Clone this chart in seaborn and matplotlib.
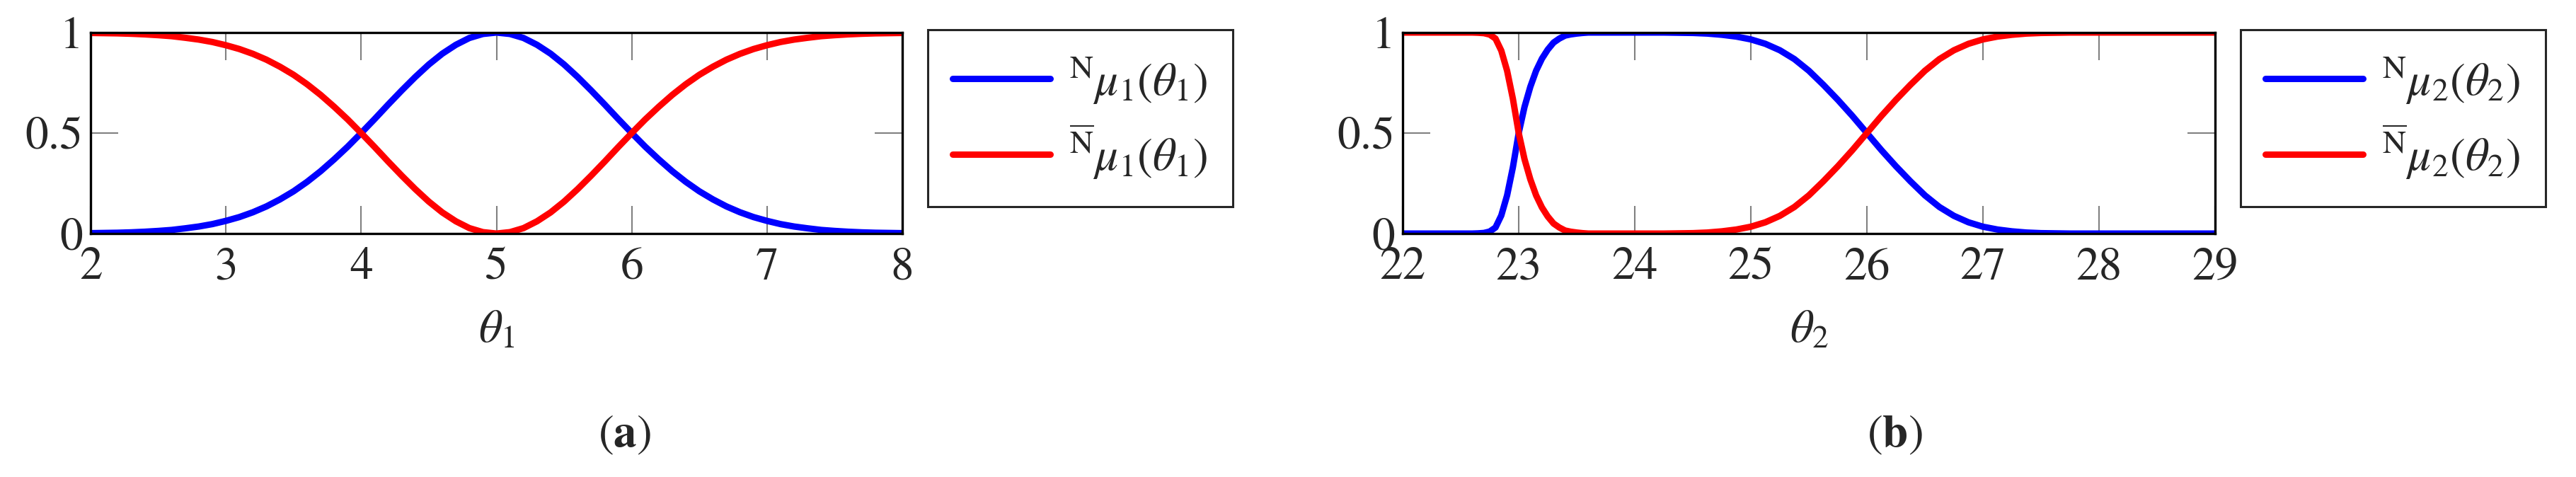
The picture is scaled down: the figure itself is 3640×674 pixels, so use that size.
import pandas as pd
import seaborn as sns
import matplotlib.pyplot as plt

# Panel (a): membership values (step 0.1)
theta1 = [round(2.0 + 0.1 * k, 1) for k in range(61)]
mu1_n = [0.002, 0.003, 0.004, 0.006, 0.009, 0.013, 0.018, 0.026, 0.035, 0.047,
         0.063, 0.082, 0.106, 0.135, 0.170, 0.210, 0.257, 0.310, 0.369, 0.432,
         0.500, 0.570, 0.642, 0.712, 0.779, 0.841, 0.895, 0.939, 0.973, 0.993,
         1.000,
         0.993, 0.973, 0.939, 0.895, 0.841, 0.779, 0.712, 0.642, 0.570, 0.500,
         0.432, 0.369, 0.310, 0.257, 0.210, 0.170, 0.135, 0.106, 0.082, 0.063,
         0.047, 0.035, 0.026, 0.018, 0.013, 0.009, 0.006, 0.004, 0.003, 0.002]
mu1_nbar = [0.998, 0.997, 0.996, 0.994, 0.991, 0.987, 0.982, 0.974, 0.965, 0.953,
            0.937, 0.918, 0.894, 0.865, 0.830, 0.790, 0.743, 0.690, 0.631, 0.568,
            0.500, 0.430, 0.358, 0.288, 0.221, 0.159, 0.105, 0.061, 0.027, 0.007,
            0.000,
            0.007, 0.027, 0.061, 0.105, 0.159, 0.221, 0.288, 0.358, 0.430, 0.500,
            0.568, 0.631, 0.690, 0.743, 0.790, 0.830, 0.865, 0.894, 0.918, 0.937,
            0.953, 0.965, 0.974, 0.982, 0.987, 0.991, 0.994, 0.996, 0.997, 0.998]

# Panel (b)
theta2 = [22.0, 22.5, 22.6, 22.65, 22.7, 22.75, 22.8, 22.85, 22.9, 22.95, 23.0, 23.05,
          23.1, 23.15, 23.2, 23.25, 23.3, 23.35, 23.4, 23.45, 23.5, 23.55, 23.6, 24.0,
          24.25, 24.5, 24.625, 24.75, 24.875, 25.0, 25.125, 25.25, 25.375, 25.5, 25.625,
          25.75, 25.875, 26.0, 26.125, 26.25, 26.375, 26.5, 26.625, 26.75, 26.875, 27.0,
          27.125, 27.25, 27.375, 27.5, 27.75, 28.0, 29.0]
mu2_n = [0.000, 0.000, 0.000, 0.001, 0.003, 0.010, 0.030, 0.090, 0.190, 0.330, 0.500, 0.630,
         0.730, 0.810, 0.870, 0.915, 0.950, 0.970, 0.985, 0.991, 0.995, 0.998, 1.000, 1.000,
         1.000, 0.998, 0.995, 0.989, 0.980, 0.966, 0.944, 0.912, 0.868, 0.810, 0.740,
         0.665, 0.585, 0.500, 0.415, 0.335, 0.260, 0.190, 0.132, 0.088, 0.056, 0.034,
         0.020, 0.011, 0.005, 0.002, 0.000, 0.000, 0.000]
mu2_nbar = [1.000, 1.000, 1.000, 0.999, 0.997, 0.990, 0.970, 0.910, 0.810, 0.670, 0.500, 0.370,
            0.270, 0.190, 0.130, 0.085, 0.050, 0.030, 0.015, 0.009, 0.005, 0.002, 0.000, 0.000,
            0.000, 0.002, 0.005, 0.011, 0.020, 0.034, 0.056, 0.088, 0.132, 0.190, 0.260,
            0.335, 0.415, 0.500, 0.585, 0.665, 0.740, 0.810, 0.868, 0.912, 0.944, 0.966,
            0.980, 0.989, 0.995, 0.998, 1.000, 1.000, 1.000]

sns.set_style("ticks")
plt.rcParams["font.family"] = ["STIXGeneral", "DejaVu Serif"]
plt.rcParams["mathtext.fontset"] = "stix"

fs = 47
W, H = 3641, 674
fig = plt.figure(figsize=(W / 100, H / 100), dpi=100)

panels = [
    dict(x=theta1, n=mu1_n, nb=mu1_nbar, xlim=(2, 8), xticks=range(2, 9), idx="1",
         left=128, width=1147, cap="$(\\mathbf{a})$", capx=882),
    dict(x=theta2, n=mu2_n, nb=mu2_nbar, xlim=(22, 29), xticks=range(22, 30), idx="2",
         left=1982, width=1148, cap="$(\\mathbf{b})$", capx=2677),
]

for p in panels:
    ax = fig.add_axes([p["left"] / W, (H - 330) / H, p["width"] / W, 284 / H])
    df = pd.DataFrame({"theta": p["x"], "N": p["n"], "Nbar": p["nb"]})
    i = p["idx"]
    sns.lineplot(data=df, x="theta", y="N", color="#0000ff", lw=6.5, ax=ax,
                 label=r"${}^{\mathrm{N}}\mu_%s(\theta_%s)$" % (i, i))
    sns.lineplot(data=df, x="theta", y="Nbar", color="#ff0000", lw=6.5, ax=ax,
                 label=r"${}^{\overline{\mathrm{N}}}\mu_%s(\theta_%s)$" % (i, i))
    ax.set_xlim(*p["xlim"])
    ax.set_ylim(0, 1)
    ax.set_xticks(list(p["xticks"]))
    ax.set_yticks([0, 0.5, 1])
    ax.set_yticklabels(["0", "0.5", "1"])
    ax.tick_params(axis="both", direction="in", length=28, width=1.5, color="#808080",
                   top=True, right=True, labelsize=fs, pad=8)
    ax.tick_params(axis="x", pad=14)
    for s in ax.spines.values():
        s.set_color("black")
        s.set_linewidth(2.4)
    ax.set_xlabel(r"$\theta_%s$" % i, fontsize=fs, labelpad=22)
    ax.set_ylabel("")
    leg = ax.legend(loc="upper left", bbox_to_anchor=(1.031, 1.014), fontsize=fs,
                    frameon=True, fancybox=False, edgecolor="#262626", framealpha=1,
                    handlelength=2.1, handletextpad=0.4, borderpad=0.55,
                    labelspacing=0.38, borderaxespad=0)
    leg.get_frame().set_linewidth(2.2)
    fig.text(p["capx"] / W, 1 - 615 / H, p["cap"], fontsize=fs, ha="center", va="center")

plt.savefig("out.png", dpi=100)
